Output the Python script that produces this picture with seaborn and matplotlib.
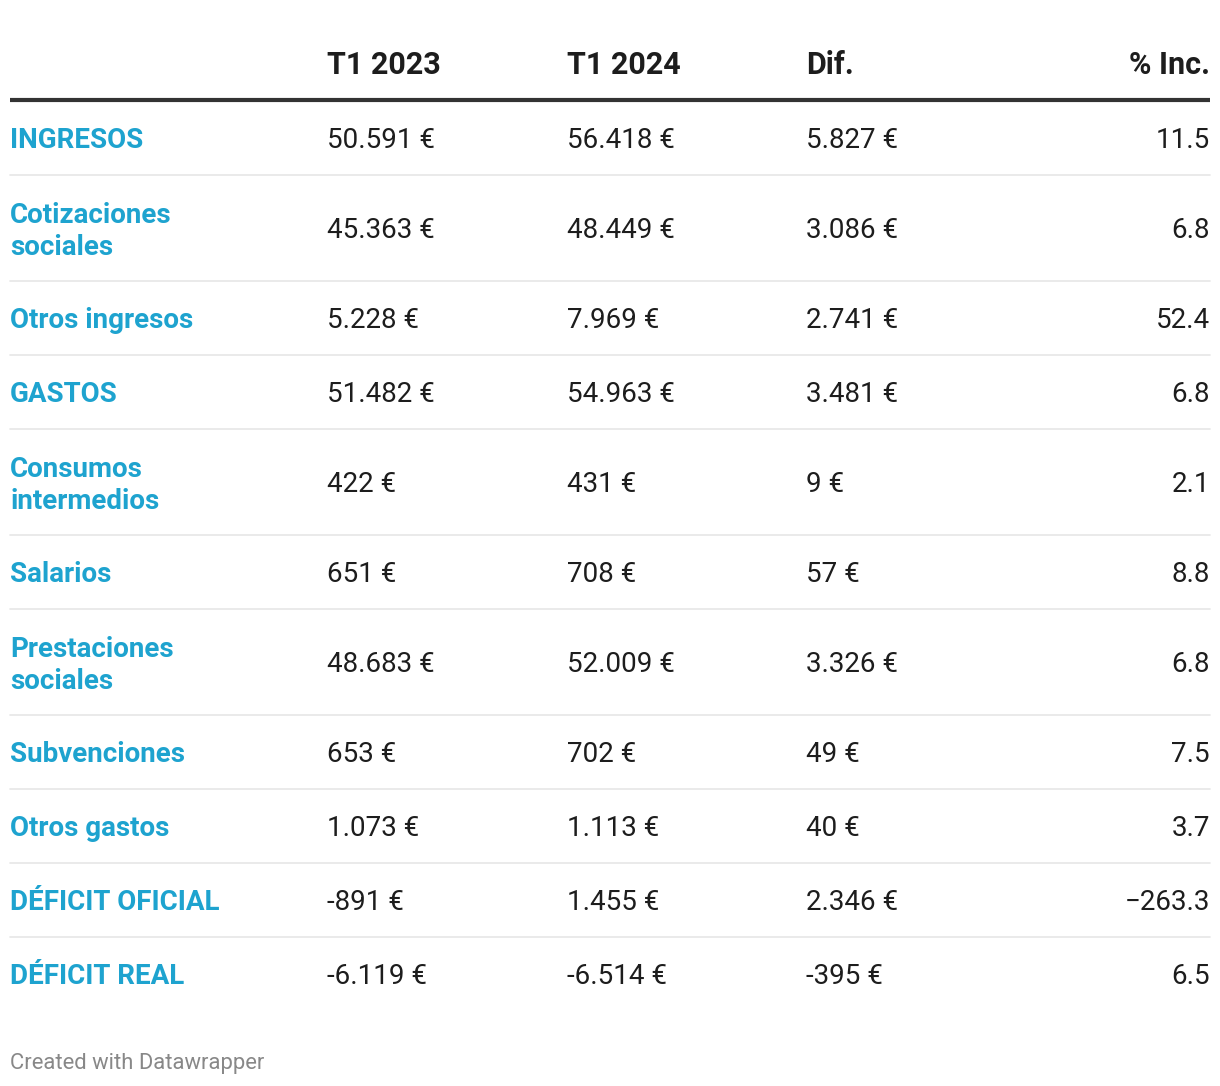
import matplotlib
matplotlib.use("Agg")
import matplotlib.pyplot as plt
import seaborn as sns

# table content
headers = ["T1 2023", "T1 2024", "Dif.", "% Inc."]
labels = ["INGRESOS", "Cotizaciones\nsociales", "Otros ingresos", "GASTOS",
          "Consumos\nintermedios", "Salarios", "Prestaciones\nsociales",
          "Subvenciones", "Otros gastos", "DÉFICIT OFICIAL", "DÉFICIT REAL"]
t1_2023 = [50591, 45363, 5228, 51482, 422, 651, 48683, 653, 1073, -891, -6119]
t1_2024 = [56418, 48449, 7969, 54963, 431, 708, 52009, 702, 1113, 1455, -6514]
dif = [5827, 3086, 2741, 3481, 9, 57, 3326, 49, 40, 2346, -395]
pct_inc = [11.5, 6.8, 52.4, 6.8, 2.1, 8.8, 6.8, 7.5, 3.7, -263.3, 6.5]

BLUE = "#1ea3cf"
DARK = "#1d1d1d"


def euro(v):
    return f"{v:,}".replace(",", ".") + " €"


def pct(v):
    return f"{v:.1f}".replace("-", "\u2212")


sns.set_theme(style="white")
plt.rcParams["font.family"] = ["Roboto", "DejaVu Sans"]

fig = plt.figure(figsize=(12.2, 10.86), dpi=100)
ax = fig.add_axes([0, 0, 1, 1])
ax.set_xlim(0, 1220)
ax.set_ylim(1086, 0)
ax.axis("off")

left, right = 10, 1210
col_x = [327, 567, 806]
fs = 20

# header
for x, h in zip(col_x, headers[:3]):
    ax.text(x, 65, h, fontsize=22, fontweight="bold", color=DARK, va="center", ha="left")
ax.text(right, 65, headers[3], fontsize=22, fontweight="bold", color=DARK, va="center", ha="right")
ax.plot([left, right], [100, 100], color="#333333", lw=3, solid_capstyle="butt")

# rows
y = 101
for i, lab in enumerate(labels):
    two_lines = "\n" in lab
    h = 106 if two_lines else 74
    yc = y + h / 2 + 2
    ax.text(left, yc + (1.5 if two_lines else 0), lab, fontsize=fs, fontweight="bold",
            color=BLUE, va="center", ha="left", linespacing=1.24)
    for x, v in zip(col_x, [t1_2023[i], t1_2024[i], dif[i]]):
        ax.text(x, yc, euro(v), fontsize=fs, color=DARK, va="center", ha="left")
    ax.text(right, yc, pct(pct_inc[i]), fontsize=fs, color=DARK, va="center", ha="right")
    y += h
    if i < len(labels) - 1:
        ax.plot([left, right], [y, y], color="#e6e6e6", lw=1.2)

ax.text(left, 1063, "Created with Datawrapper", fontsize=15.8, color="#888888", va="center", ha="left")

fig.savefig("out.png", dpi=100, facecolor="white")
